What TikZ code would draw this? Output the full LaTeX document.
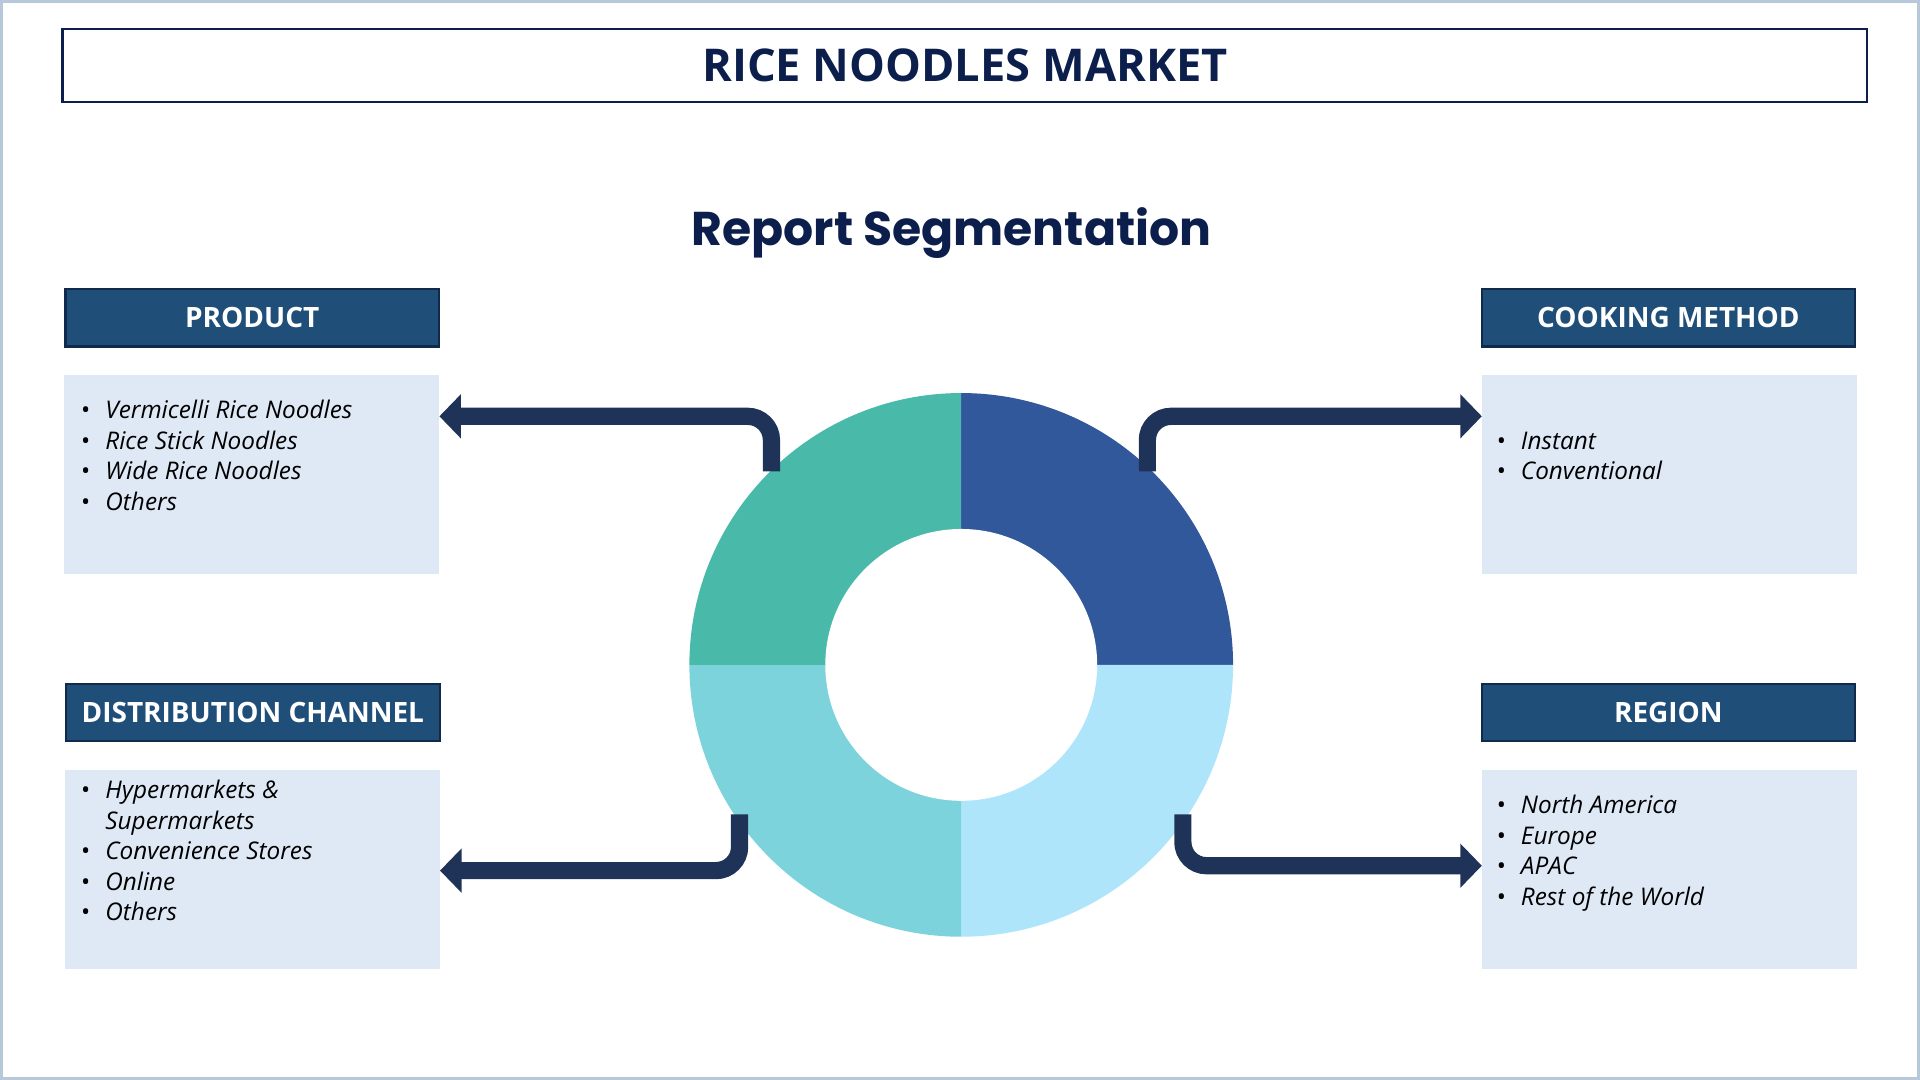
\documentclass[tikz,border=0pt]{standalone}
\usepackage{fontspec}
\setmainfont{Open Sans}
\newfontfamily\headfont{Poppins}
\usetikzlibrary{arrows.meta}
\definecolor{navy}{HTML}{0C1E4B}
\definecolor{headfill}{HTML}{1F4E79}
\definecolor{headline}{HTML}{0F2A4A}
\definecolor{boxfill}{HTML}{DFE9F5}
\definecolor{arrowcol}{HTML}{1E3357}
\definecolor{segA}{HTML}{30589A}
\definecolor{segB}{HTML}{AEE5FB}
\definecolor{segC}{HTML}{7DD3DB}
\definecolor{segD}{HTML}{49B9AA}
\newcommand{\itm}[1]{\textbullet & \textit{#1}\\}
\tikzset{
  headbox/.style={draw=headline,line width=1pt,fill=headfill,text=white,minimum width=305*0.02cm,minimum height=47*0.02cm,font=\fontsize{13}{15}\selectfont\bfseries,inner sep=0pt},
  listbox/.style={fill=boxfill,minimum width=306*0.02cm,minimum height=163*0.02cm,inner sep=0pt},
  listtext/.style={anchor=west,font=\fontsize{11.3}{14.2}\selectfont,inner sep=0pt,align=left},
  flow/.style={arrowcol,line width=8pt,rounded corners=11pt,-{Triangle[length=10pt,width=20pt]}}
}
\begin{document}
\begin{tikzpicture}[x=0.02cm,y=0.02cm]
\useasboundingbox (0,0) rectangle (1568,882);
\draw[color={rgb,255:red,183;green,201;blue,217},line width=1.5pt] (1,1) rectangle (1567,881);
% title
\node[draw=navy,line width=1pt,minimum width=1474*0.02cm,minimum height=59*0.02cm,inner sep=0pt,text=navy,font=\fontsize{21}{24}\selectfont\bfseries](title) at (788,828.5){RICE NOODLES MARKET};
\node[text=navy,font=\headfont\fontsize{22}{26}\selectfont\bfseries](subtitle) at (777,692){Report Segmentation};
% donut
\fill[segA] (785,339) -- (785,561) arc[start angle=90,end angle=0,radius=222] -- cycle;
\fill[segB] (785,339) -- (1007,339) arc[start angle=0,end angle=-90,radius=222] -- cycle;
\fill[segC] (785,339) -- (785,117) arc[start angle=-90,end angle=-180,radius=222] -- cycle;
\fill[segD] (785,339) -- (563,339) arc[start angle=180,end angle=90,radius=222] -- cycle;
\fill[white] (785,339) circle[radius=111];
% headers
\node[headbox](prod) at (206,622.5){PRODUCT};
\node[headbox](cook) at (1362.5,622.5){COOKING METHOD};
\node[headbox](dist) at (206.5,300){DISTRIBUTION CHANNEL};
\node[headbox](reg) at (1362.5,300){REGION};
% lists
\node[listbox](prodlist) at (205.5,494.5){};
\node[listbox](cooklist) at (1363.5,494.5){};
\node[listbox](distlist) at (206,172){};
\node[listbox](reglist) at (1363.5,172){};
\node[listtext](prodtxt) at (66,507.5){\begin{tabular}{@{}l@{\hspace{7pt}}l@{}}\itm{Vermicelli Rice Noodles}\itm{Rice Stick Noodles}\itm{Wide Rice Noodles}\itm{Others}\end{tabular}};
\node[listtext](cooktxt) at (1222,507.5){\begin{tabular}{@{}l@{\hspace{7pt}}l@{}}\itm{Instant}\itm{Conventional}\end{tabular}};
\node[listtext](disttxt) at (66,185){\begin{tabular}{@{}l@{\hspace{7pt}}l@{}}\itm{Hypermarkets \&}& \textit{Supermarkets}\\\itm{Convenience Stores}\itm{Online}\itm{Others}\end{tabular}};
\node[listtext](regtxt) at (1222,185){\begin{tabular}{@{}l@{\hspace{7pt}}l@{}}\itm{North America}\itm{Europe}\itm{APAC}\itm{Rest of the World}\end{tabular}};
% connectors
\coordinate (p0) at (630,497);
\coordinate (c0) at (937,497);
\coordinate (d0) at (604,217);
\coordinate (r0) at (966,217);
\draw[flow] (p0) |- (prodlist.east |- 0,542);
\draw[flow] (c0) |- (cooklist.west |- 0,542);
\draw[flow] (d0) |- (distlist.east |- 0,171);
\draw[flow] (r0) |- (reglist.west |- 0,175);
\end{tikzpicture}
\end{document}
